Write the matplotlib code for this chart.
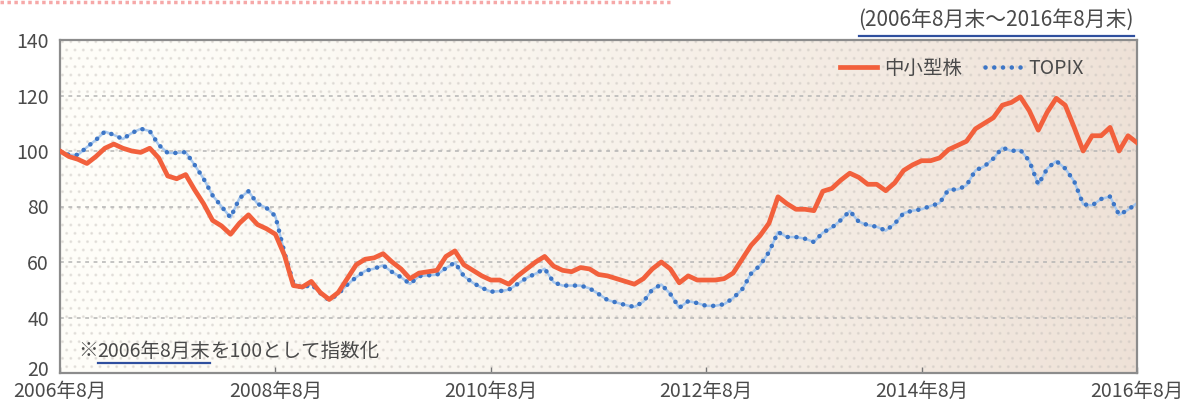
import numpy as np
import matplotlib
matplotlib.use("Agg")
import matplotlib.pyplot as plt
import matplotlib.transforms as mtransforms
from matplotlib.lines import Line2D
from matplotlib.patches import Rectangle

plt.rcParams['font.family'] = ['Noto Sans CJK JP', 'DejaVu Sans']

# monthly index values, 2006/8 end = 100
small_cap = [
    100, 98, 97, 95.5, 98, 101, 102.5, 101, 100, 99.5, 101, 97.5,
    91, 90, 91.5, 86, 81, 75, 73, 70, 74, 77, 73.5, 72,
    70, 62.5, 51.5, 51, 53, 49, 46.5, 49, 54, 59, 61, 61.5,
    63, 60, 57.5, 54, 56, 56.5, 57, 62, 64, 59, 57, 55,
    53.5, 53.5, 52, 55, 57.5, 60, 62, 58.5, 57, 56.5, 58, 57.5,
    55.5, 55, 54, 53, 52, 54, 57.5, 60, 57.5, 52.5, 55, 53.5,
    53.5, 53.5, 54, 56, 61, 66, 69.5, 74, 83.5, 81, 79, 79,
    78.5, 85.5, 86.5, 89.5, 92, 90.5, 88, 88, 85.7, 88.5, 93, 95,
    96.5, 96.5, 97.5, 100.5, 102, 103.5, 108, 110, 112, 116.5, 117.5, 119.5,
    114.5, 107.5, 114, 119, 116.5, 108.5, 100, 105.5, 105.5, 108.5, 100, 105.5,
    103,
]
topix = [
    100, 98.6, 98.6, 101.4, 104, 107, 105.8, 104.3, 106.5, 108, 107.2, 102.2,
    99.3, 99.3, 99.6, 95, 90, 84, 80, 76, 83, 85.5, 81, 79.5,
    76.5, 63.5, 52.5, 50.5, 52, 48.8, 46.2, 48.5, 51.8, 54.5, 56.8, 57.6,
    58.8, 56.4, 54.5, 52.1, 54.9, 55.2, 55.4, 57.8, 59.8, 54.9, 52.5, 50.7,
    49.3, 49.5, 50, 52.1, 54.3, 55.8, 57.6, 52.7, 51.5, 51.5, 51.5, 50.5,
    48.5, 46.3, 45.4, 44.5, 43.8, 45.7, 50.1, 51.9, 48.5, 43.5, 45.9, 45.2,
    44.2, 44.2, 44.8, 47, 50.1, 55.8, 58.8, 63.6, 70.8, 69, 69, 68.4,
    67.2, 70.6, 72.4, 75.1, 78.4, 74.5, 73.3, 72.7, 71.3, 73.8, 77.6, 78.5,
    79, 80.2, 81.2, 86.1, 86.1, 87.6, 93, 94.5, 97.3, 101.2, 100, 100.4,
    96.4, 87.9, 93.7, 96.4, 93.7, 89.1, 80.8, 80.4, 82.7, 83.6, 77, 78.8,
    81.2,
]
tick_months = [0, 24, 48, 72, 96, 120]
tick_labels = ["2006年8月", "2008年8月", "2010年8月", "2012年8月", "2014年8月", "2016年8月"]
y_ticks = [20, 40, 60, 80, 100, 120, 140]

RED = '#f2603c'
BLUE = '#3d76c6'
TXT = '#4a4a4a'

W, H = 1192, 401
fig = plt.figure(figsize=(W / 100, H / 100), dpi=100)
ax = fig.add_axes([60 / W, 1 - 373 / H, (1137 - 60) / W, (373 - 40) / H])

# background: pale on the left, beige on the right
grad = np.linspace(0, 1, 256)
c0 = np.array([0.998, 0.995, 0.975])
c1 = np.array([0.935, 0.885, 0.845])
img = c0[None, :] + (c1 - c0)[None, :] * (grad[:, None] ** 1.3)
ax.imshow(img[None, :, :], extent=[0, 1, 0, 1], transform=ax.transAxes,
          aspect='auto', zorder=0, interpolation='bilinear')
ax.add_patch(Rectangle((0, 0), 1, 1, transform=ax.transAxes, fill=False,
                       hatch='..', edgecolor=(0.78, 0.76, 0.74, 0.35), lw=0, zorder=0.5))

x = np.arange(len(small_cap))
for v in [40, 60, 80, 100, 120]:
    ax.axhline(v, color='#b4b4b4', lw=1.1, ls=(0, (2.5, 3)), zorder=1)

ax.plot(x, topix, color='#a8c8ee', lw=1.8, zorder=2, solid_capstyle='round')
ax.plot(x, topix, color=BLUE, lw=3.3, ls=(0, (0.01, 1.9)),
        dash_capstyle='round', zorder=3)
ax.plot(x, small_cap, color=RED, lw=3.4, zorder=4, solid_joinstyle='round')

ax.set_xlim(0, len(small_cap) - 1)
ax.set_ylim(20, 140)
ax.set_yticks(y_ticks)
ax.set_xticks(tick_months)
ax.set_xticklabels(tick_labels)
ax.tick_params(axis='y', length=0, pad=8, labelsize=14, labelcolor=TXT)
ax.tick_params(axis='x', direction='in', length=4, width=1, color='#777777',
               pad=6, labelsize=14, labelcolor=TXT)
for s in ax.spines.values():
    s.set_color('#8c8c8c')
    s.set_linewidth(1.6)

# the lowest y label sits a little above its line, clear of the x labels
lab20 = ax.get_yticklabels()[0]
lab20.set_transform(lab20.get_transform() +
                    mtransforms.ScaledTranslation(0, 5 / 100, fig.dpi_scale_trans))

# legend
h1 = Line2D([], [], color=RED, lw=3.4)
h2 = Line2D([], [], color=BLUE, lw=3.3, ls=(0, (0.01, 1.9)), dash_capstyle='round')
ax.legend([h1, h2], ["中小型株", "TOPIX"], ncol=2, frameon=False,
          loc='upper right', bbox_to_anchor=((1092 - 60) / 1077, 1 - (50 - 40) / 333),
          fontsize=14, handlelength=1.9, handletextpad=0.35, columnspacing=1.2,
          labelcolor=TXT, borderaxespad=0)

# period note at top right, underlined
fig.canvas.draw()
r = fig.canvas.get_renderer()
t = fig.text(1134 / W, 1 - 20 / H, "(2006年8月末〜2016年8月末)", ha='right', va='center',
             fontsize=15, color=TXT)
bb = t.get_window_extent(r)
fig.add_artist(Line2D([bb.x0 / W, bb.x1 / W], [1 - 36 / H] * 2, color='#2f4f9e', lw=1.6))

# normalisation note inside the plot, with the date underlined
parts = ["※", "2006年8月末", "を100として指数化"]
xpix, ypix = 78, 351
spans = []
for p in parts:
    tt = fig.text(xpix / W, 1 - ypix / H, p, ha='left', va='center', fontsize=14, color=TXT)
    b = tt.get_window_extent(r)
    spans.append((b.x0, b.x1))
    xpix = b.x1
fig.add_artist(Line2D([spans[1][0] / W, spans[1][1] / W], [1 - 363 / H] * 2,
                      color='#2f4f9e', lw=1.6))

# pink dotted border at the very top
fig.add_artist(Line2D([0, 670 / W], [1 - 2 / H] * 2, color='#f6a8a8', lw=2.5,
                      ls=(0, (1, 1))))

fig.savefig('out.png', dpi=100)
